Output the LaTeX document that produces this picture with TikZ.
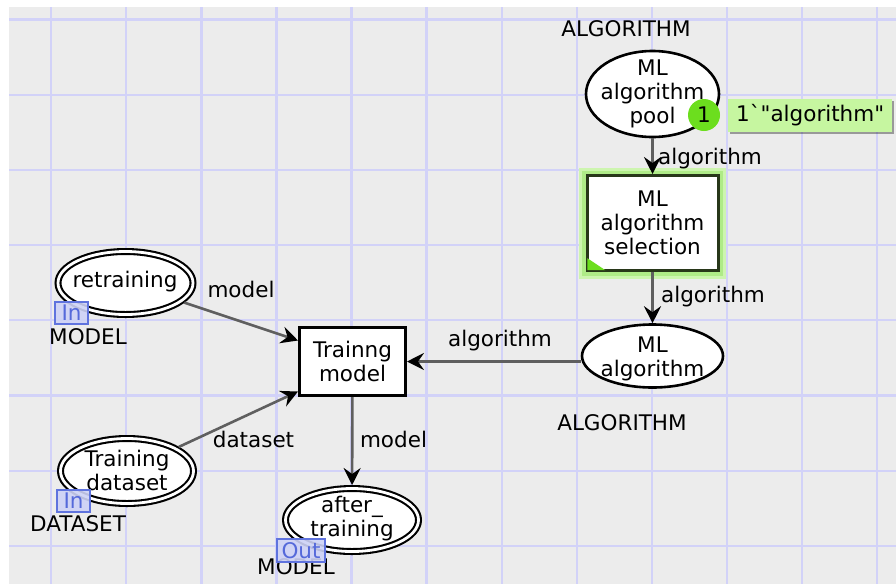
\documentclass[tikz,border=0pt]{standalone}
\usepackage{fontspec}
\setmainfont{DejaVu Sans}
\setmonofont{DejaVu Sans}
\usetikzlibrary{shapes.geometric,arrows.meta,shadows}

\definecolor{canvas}{RGB}{236,236,236}
\definecolor{gridblue}{RGB}{210,210,248}
\definecolor{arcgrey}{RGB}{95,95,95}
\definecolor{glowouter}{RGB}{205,245,175}
\definecolor{glowinner}{RGB}{175,235,135}
\definecolor{tokgreen}{RGB}{108,222,30}
\definecolor{toklabel}{RGB}{198,246,160}
\definecolor{portline}{RGB}{95,115,222}
\definecolor{portfill}{RGB}{205,210,246}
\definecolor{porttext}{RGB}{85,105,218}
\definecolor{selborder}{RGB}{40,55,25}

\begin{document}
\begin{tikzpicture}[x=1pt,y=-1pt,
  font=\fontsize{21.5}{24}\selectfont,
  gridline/.style={draw=gridblue,line width=2.2pt},
  place/.style={ellipse,draw=black,fill=white,line width=2.6pt,inner sep=0pt},
  portplace/.style={ellipse,draw=black,fill=white,line width=2.1pt,
    double=white,double distance=2.8pt,inner sep=0pt,outer sep=3.5pt},
  trans/.style={rectangle,draw=black,fill=white,line width=3pt,inner sep=0pt,align=center},
  txt/.style={align=center,inner sep=0pt},
  arc/.style={draw=arcgrey,line width=2.6pt,
    -{Stealth[length=17pt,width=17pt,inset=6pt,color=black]}},
  portbox/.style={draw=portline,fill=portfill,fill opacity=0.9,text opacity=1,
    line width=1.8pt,inner sep=0pt,text=porttext},
]
\useasboundingbox (0,0) rectangle (896,584);

% sheet and grid
\fill[white] (0,0) rectangle (896,584);
\fill[canvas] (9,7) rectangle (896,584);
\foreach \i in {0,...,11}
  \draw[gridline] ({51.3+75.05*\i},7) -- ({51.3+75.05*\i},584);
\foreach \j in {0,...,7}
  \draw[gridline] (9,{19.4+75.2*\j}) -- (896,{19.4+75.2*\j});

% places
\node[place,minimum width=133pt,minimum height=86pt] (pool) at (652.5,94) {};
\node[txt] (pooltext) at (652.5,94) {ML\\algorithm\\pool};
\node (pooltype) at (626,29) {ALGORITHM};

\node[place,minimum width=141pt,minimum height=63pt] (mlalg) at (652.5,356) {};
\node[txt] (mlalgtext) at (652.5,359) {ML\\algorithm};
\node (mlalgtype) at (622,423) {ALGORITHM};

\node[portplace,minimum width=135pt,minimum height=63pt] (retr) at (125.5,283) {};
\node[txt] (retrtext) at (125,282) {retraining};
\node (retrtype) at (88,337) {MODEL};

\node[portplace,minimum width=133pt,minimum height=65pt] (tds) at (127,471) {};
\node[txt] (tdstext) at (127,470) {Training\\dataset};
\node (tdstype) at (78,524) {DATASET};

\node[portplace,minimum width=133pt,minimum height=63pt] (after) at (352,520) {};
\node[txt] (aftertext) at (352,519) {after\_\\training};
\node (aftertype) at (296,567) {MODEL};

% transitions
\node[trans,minimum width=131pt,minimum height=95pt,draw=selborder,
  preaction={draw=glowouter,line width=16pt},
  preaction={draw=glowinner,line width=10pt}] (sel) at (652.5,223) {ML\\algorithm\\selection};
\fill[tokgreen] ([xshift=1.8pt,yshift=1.8pt]sel.south west) -- ++(0,-12) -- ++(18,12) -- cycle;

\node[trans,minimum width=106pt,minimum height=68pt] (train) at (352.5,361.5) {Trainng\\model};

% connectors
\draw[arc] (pool) -- (sel);
\draw[arc] (sel) -- (mlalg);
\draw[arc] (mlalg.west |- train.east) -- (train.east);
\draw[arc] (retr) -- ([yshift=21pt]train.west);
\draw[arc] (tds) -- ([yshift=-30pt]train.west);
\draw[arc] (train) -- (after);

% arc inscriptions
\node (lblpool) at (710,159) {algorithm};
\node (lblsel) at (713,297) {algorithm};
\node (lblmlalg) at (500,341) {algorithm};
\node (lblretr) at (241,289) {model};
\node (lbltds) at (253.5,439) {dataset};
\node (lblafter) at (393.5,439) {model};

% port tags
\node[portbox,minimum width=33pt,minimum height=22pt] (retrport) at (71.5,313) {In};
\node[portbox,minimum width=33pt,minimum height=22pt] (tdsport) at (73.5,501) {In};
\node[portbox,minimum width=48pt,minimum height=23pt] (afterport) at (301,550.5) {Out};

% marking
\node[fill=toklabel,minimum width=164pt,minimum height=33pt,inner sep=0pt,anchor=west,
  drop shadow={shadow xshift=2pt,shadow yshift=-2pt,opacity=0.35,fill=black}]
  (marking) at (728,115.5) {\ttfamily 1`"algorithm"};
\node[circle,fill=tokgreen,minimum size=32pt,inner sep=0pt] (token) at (704,115) {1};

\end{tikzpicture}
\end{document}
